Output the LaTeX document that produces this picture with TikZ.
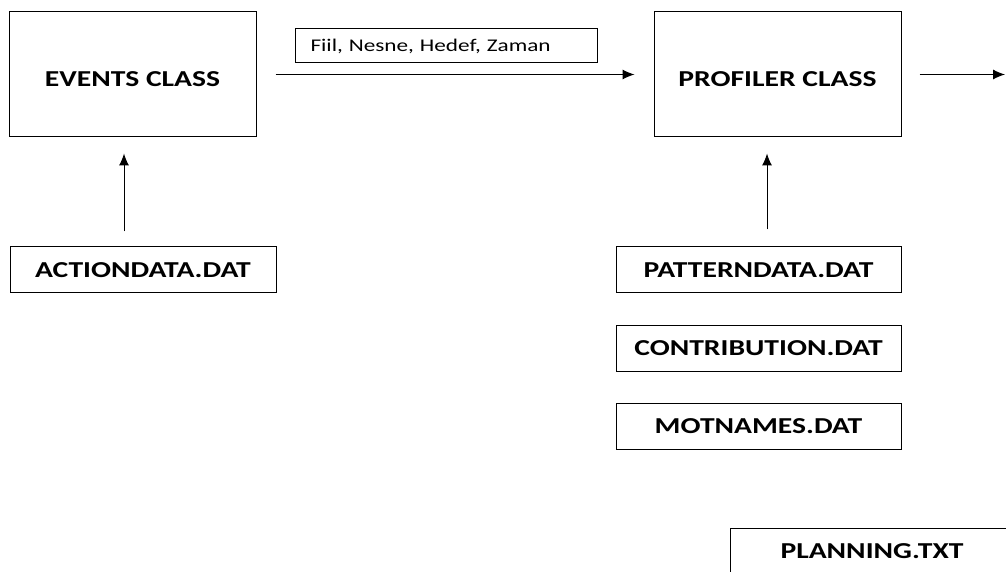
\documentclass[tikz,border=0pt]{standalone}
\usepackage{fontspec}
\usetikzlibrary{arrows.meta}
\newfontfamily\boxfont[FakeStretch=1.3]{Carlito}
\begin{document}
\begin{tikzpicture}[
    classbox/.style={draw, line width=0.025cm, minimum width=6.175cm, minimum height=3.125cm,
      text height=0.6cm, font=\boxfont\fontsize{16.2}{18}\selectfont\bfseries},
    filebox/.style={draw, line width=0.025cm, minimum width=7.125cm, minimum height=1.15cm,
      font=\boxfont\fontsize{16.2}{18}\selectfont\bfseries},
    flowlabel/.style={draw, line width=0.025cm, text width=6.8cm, inner xsep=0.375cm,
      minimum height=0.85cm, align=left, font=\boxfont\fontsize{12.7}{15}\selectfont},
    flow/.style={line width=0.025cm, -{Latex[length=3mm,width=2.5mm]}}
  ]
  \useasboundingbox (0,0) rectangle (25.15,-14.3);

  % Drawing class boxes
  \node [classbox] (events) at (3.3125,-1.8625) {EVENTS CLASS};%
  \node [classbox] (profiler) at (19.4375,-1.8625) {PROFILER CLASS};%

  % Drawing data file boxes
  \node [filebox, minimum width=6.65cm] (actiondata) at (3.575,-6.75) {ACTIONDATA.DAT};%
  \node [filebox] (patterndata) at (18.9625,-6.75) {PATTERNDATA.DAT};%
  \node [filebox] (contribution) at (18.9625,-8.7) {CONTRIBUTION.DAT};%
  \node [filebox] (motnames) at (18.9625,-10.6625) {MOTNAMES.DAT};%
  \node [filebox, minimum width=7.1cm] (planning) at (21.8,-13.775) {PLANNING.TXT};%

  % Drawing label of the flow events -> profiler
  \node [flowlabel] (fields) at (11.1625,-1.15) {Fiil, Nesne, Hedef, Zaman};%

  % Drawing arrows
  \coordinate (actx) at (3.1,0);
  \coordinate (patx) at (19.175,0);
  \coordinate (out) at (25.125,-1.8625);
  \draw [flow, shorten <=0.475cm, shorten >=0.475cm] (events.east) -- (profiler.west);%
  \draw [flow, shorten <=0.45cm] (profiler.east) -- (out);%
  \draw [flow, shorten <=0.375cm, shorten >=0.4cm] (actiondata.north -| actx) -- (events.south -| actx);%
  \draw [flow, shorten <=0.425cm, shorten >=0.4cm] (patterndata.north -| patx) -- (profiler.south -| patx);%
\end{tikzpicture}
\end{document}
